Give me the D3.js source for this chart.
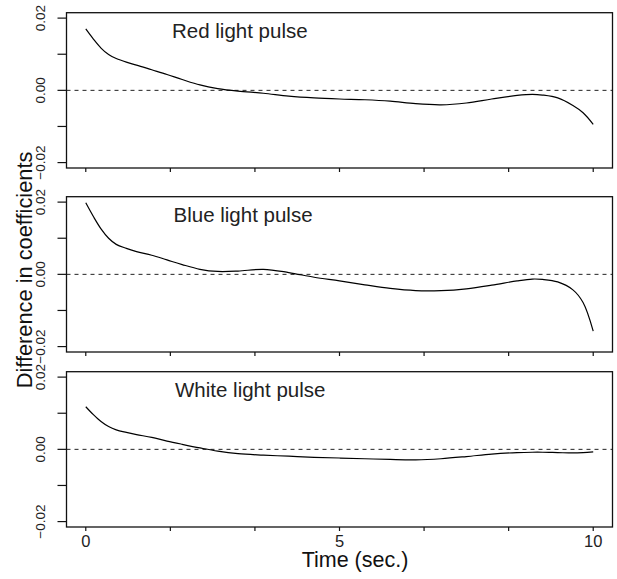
<!DOCTYPE html>
<html>
<head>
<meta charset="utf-8">
<script src="https://cdn.jsdelivr.net/npm/d3@7"></script>
<style>
  html, body { margin: 0; padding: 0; background: #fff; }
  svg { display: block; font-family: "Liberation Sans", Arial, Helvetica, sans-serif; }
</style>
</head>
<body>
<svg id="chart" width="617" height="579"></svg>
<script>
// Time grid (seconds) shared by the three fitted difference curves
const timeSec = [0, 0.15, 0.3, 0.45, 0.6, 0.8, 1.0, 1.3, 1.6, 1.9, 2.25, 2.6, 3.0, 3.5, 4.0,
                 4.5, 5.0, 5.5, 6.0, 6.5, 7.0, 7.5, 8.0, 8.5, 8.8, 9.0, 9.3, 9.6, 9.8, 10.0];

// Difference in coefficients for each light pulse
const redDiff = [0.0170, 0.0142, 0.0117, 0.0099, 0.0088, 0.0078, 0.0070, 0.0057, 0.0044, 0.0030,
                 0.0015, 0.0005, -0.0002, -0.0008, -0.0016, -0.0021, -0.0024, -0.0026, -0.0030, -0.0037,
                 -0.0040, -0.0035, -0.0024, -0.0014, -0.0011, -0.0013, -0.0021, -0.0042, -0.0062, -0.0094];
const blueDiff = [0.0198, 0.0160, 0.0126, 0.0100, 0.0083, 0.0072, 0.0063, 0.0053, 0.0040, 0.0027,
                  0.0014, 0.0008, 0.0009, 0.0014, 0.0005, -0.0008, -0.0018, -0.0029, -0.0039, -0.0045,
                  -0.0045, -0.0040, -0.0030, -0.0018, -0.0013, -0.0014, -0.0021, -0.0043, -0.0078, -0.0157];
const whiteDiff = [0.0118, 0.0096, 0.0077, 0.0063, 0.0054, 0.0047, 0.0041, 0.0033, 0.0023, 0.0014,
                   0.0004, -0.0005, -0.0012, -0.0016, -0.0019, -0.0022, -0.0024, -0.0026, -0.0028, -0.0029,
                   -0.0026, -0.0020, -0.0013, -0.0009, -0.0008, -0.0008, -0.0009, -0.0010, -0.0009, -0.0007];

const panelTitles = ["Red light pulse", "Blue light pulse", "White light pulse"];
const panelSeries = [redDiff, blueDiff, whiteDiff];

// Axis ticks and labels
const xTicks = [0, 10 / 6, 20 / 6, 5, 40 / 6, 50 / 6, 10];
const xTickLabels = { 0: "0", 5: "5", 10: "10" };
const yTicks = [-0.02, -0.01, 0, 0.01, 0.02];
const yTickLabels = [-0.02, 0, 0.02];

const xLabel = "Time (sec.)";
const yLabel = "Difference in coefficients";

// Layout
const svg = d3.select("#chart");
const left = 66.5, right = 612.5;
const panelTops = [12.7, 196.7, 371.7];
const panelH = 155.3;

const x = d3.scaleLinear().domain([-0.38, 10.38]).range([left, right]);
const fmt = v => (v < 0 ? "\u2212" : "") + Math.abs(v).toFixed(2);

panelSeries.forEach((vals, i) => {
  const top = panelTops[i];
  const y = d3.scaleLinear().domain([-0.0215, 0.0215]).range([top + panelH, top]);
  const g = svg.append("g");

  // zero reference line
  g.append("line")
    .attr("x1", left).attr("x2", right)
    .attr("y1", y(0)).attr("y2", y(0))
    .attr("stroke", "#222").attr("stroke-width", 1)
    .attr("stroke-dasharray", "4,4");

  // fitted difference curve
  const line = d3.line()
    .x((d, k) => x(timeSec[k]))
    .y(d => y(d))
    .curve(d3.curveCatmullRom.alpha(0.5));
  g.append("path")
    .datum(vals)
    .attr("d", line)
    .attr("fill", "none")
    .attr("stroke", "#000")
    .attr("stroke-width", 1.2);

  // frame
  g.append("rect")
    .attr("x", left).attr("y", top)
    .attr("width", right - left).attr("height", panelH)
    .attr("fill", "none").attr("stroke", "#111").attr("stroke-width", 1.3);

  // left axis ticks
  g.selectAll("line.yt").data(yTicks).enter().append("line")
    .attr("x1", left - 9).attr("x2", left)
    .attr("y1", d => y(d)).attr("y2", d => y(d))
    .attr("stroke", "#111").attr("stroke-width", 1.2);

  g.selectAll("text.yl").data(yTickLabels).enter().append("text")
    .attr("transform", d => `translate(45,${y(d)}) rotate(-90)`)
    .attr("text-anchor", "middle")
    .attr("font-size", 13.5)
    .attr("fill", "#222")
    .text(d => fmt(d));

  // bottom axis ticks
  g.selectAll("line.xt").data(xTicks).enter().append("line")
    .attr("x1", d => x(d)).attr("x2", d => x(d))
    .attr("y1", top + panelH).attr("y2", top + panelH + 4)
    .attr("stroke", "#111").attr("stroke-width", 1.2);

  if (i === panelSeries.length - 1) {
    g.selectAll("text.xl").data(xTicks.filter(t => xTickLabels[Math.round(t * 1000) / 1000] !== undefined))
      .enter().append("text")
      .attr("x", d => x(d))
      .attr("y", top + panelH + 19.5)
      .attr("text-anchor", "middle")
      .attr("font-size", 16.5)
      .attr("fill", "#222")
      .text(d => xTickLabels[Math.round(d * 1000) / 1000]);
  }

  // panel title
  g.append("text")
    .attr("x", 172 + i * 1.5)
    .attr("y", top + 24.8)
    .attr("font-size", 20.5)
    .attr("fill", "#222")
    .text(panelTitles[i]);
});

// axis titles
svg.append("text")
  .attr("x", 355).attr("y", 567)
  .attr("text-anchor", "middle")
  .attr("font-size", 21.5)
  .attr("fill", "#111")
  .text(xLabel);

svg.append("text")
  .attr("transform", "translate(31.5,270) rotate(-90)")
  .attr("text-anchor", "middle")
  .attr("font-size", 21.8)
  .attr("fill", "#111")
  .text(yLabel);
</script>
</body>
</html>
